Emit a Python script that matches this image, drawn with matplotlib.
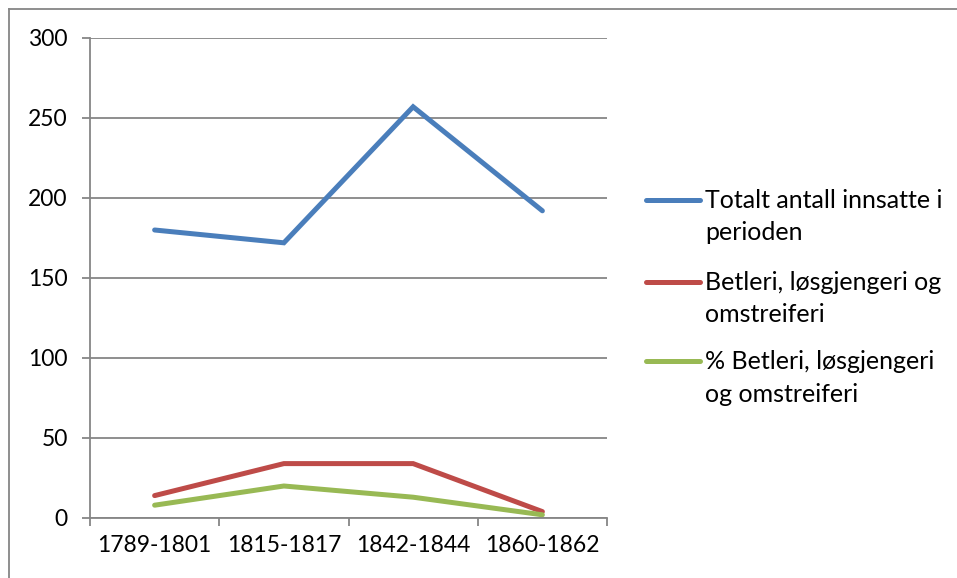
import matplotlib
matplotlib.use("Agg")
import matplotlib.pyplot as plt
from matplotlib.lines import Line2D

categories = ["1789-1801", "1815-1817", "1842-1844", "1860-1862"]
totalt = [180, 172, 257, 192]
betleri = [14, 34, 34, 4]
pct_betleri = [8, 20, 13, 2]
series_labels = ["Totalt antall innsatte i\nperioden",
                 "Betleri, løsgjengeri og\nomstreiferi",
                 "% Betleri, løsgjengeri\nog omstreiferi"]
colors = ["#4A7EBB", "#BE4B48", "#98B954"]
yticks = [0, 50, 100, 150, 200, 250, 300]

plt.rcParams['font.family'] = ['Lato', 'DejaVu Sans']
W, H = 957, 578
fig = plt.figure(figsize=(W / 100, H / 100), dpi=100)
ax = fig.add_axes([90 / W, 1 - 518 / H, 517 / W, 480 / H])

x = list(range(len(categories)))
for vals, c, lab in zip([totalt, betleri, pct_betleri], colors, series_labels):
    ax.plot(x, vals, color=c, lw=3.6, solid_capstyle='round', solid_joinstyle='miter', label=lab)

grid_c = "#868686"
ax.set_ylim(0, 300)
ax.set_xlim(-0.5, len(categories) - 0.5)
ax.set_yticks(yticks)
ax.set_yticklabels([str(v) for v in yticks])
ax.yaxis.grid(True, color=grid_c, lw=1.3)
ax.set_axisbelow(True)
ax.set_xticks([i - 0.5 for i in range(len(categories) + 1)])
ax.set_xticklabels([])
ax.set_xticks(x, minor=True)
ax.set_xticklabels(categories, minor=True)
ax.tick_params(axis='x', which='minor', length=0, pad=12, labelsize=16.5)
ax.tick_params(axis='x', which='major', length=6, color=grid_c, width=1.3, direction='out')
ax.tick_params(axis='y', length=6, color=grid_c, width=1.3, direction='out', pad=10, labelsize=16.5)
for s in ['top', 'right']:
    ax.spines[s].set_visible(False)
for s in ['left', 'bottom']:
    ax.spines[s].set_color(grid_c)
    ax.spines[s].set_linewidth(1.3)

# legend, drawn manually so the handle aligns with the first text line
leg_y = [200, 282, 361]
for ly, c, lab in zip(leg_y, colors, series_labels):
    fig.add_artist(Line2D([646 / W, 700 / W], [1 - ly / H, 1 - ly / H], color=c, lw=3.6,
                          solid_capstyle='round', transform=fig.transFigure))
    fig.text(705 / W, 1 - (ly - 11) / H, lab, fontsize=18, va='top', ha='left',
             linespacing=1.5, transform=fig.transFigure)

# chart-area border (top and left visible)
fig.add_artist(Line2D([9 / W, 1.0], [1 - 9 / H, 1 - 9 / H], color=grid_c, lw=1.3, transform=fig.transFigure))
fig.add_artist(Line2D([9 / W, 9 / W], [0, 1 - 9 / H], color=grid_c, lw=1.3, transform=fig.transFigure))

fig.savefig("out.png", dpi=100)
